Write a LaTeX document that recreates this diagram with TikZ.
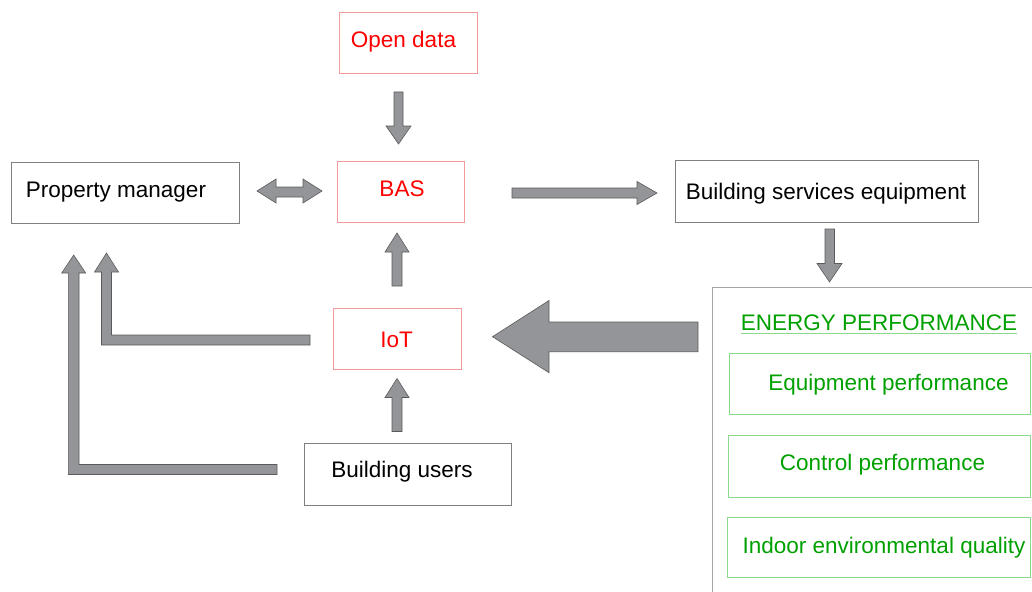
\documentclass[tikz,border=0pt]{standalone}
\usepackage{fontspec}
\setmainfont{Liberation Sans}
\definecolor{arrowfill}{HTML}{939598}
\definecolor{arrowline}{HTML}{5A5A5A}
\definecolor{boxgray}{HTML}{808080}
\definecolor{boxred}{HTML}{F59A9A}
\definecolor{txtred}{HTML}{FF0000}
\definecolor{boxgreen}{HTML}{8CD88C}
\definecolor{txtgreen}{HTML}{00A000}
\definecolor{framegray}{HTML}{A6A6A6}
\tikzset{
  plainbox/.style={draw=boxgray, line width=0.9pt, inner sep=0pt},
  redbox/.style={draw=boxred, line width=0.9pt, inner sep=0pt},
  greenbox/.style={draw=boxgreen, line width=0.9pt, inner sep=0pt},
  label txt/.style={inner sep=0pt, anchor=base, font=\fontsize{22.5}{27}\selectfont},
  blacktxt/.style={label txt, text=black},
  redtxt/.style={label txt, text=txtred},
  greentxt/.style={label txt, text=txtgreen},
  blockarrow/.style={fill=arrowfill, draw=arrowline, line width=0.6pt, line join=miter},
}
\begin{document}
\begin{tikzpicture}[x=1pt, y=-1pt]
\useasboundingbox (0,0) rectangle (1032,591);

% ---- boxes ----
\node[redbox, minimum width=138pt, minimum height=61pt] (open) at (408,42.5) {};
\node[redbox, minimum width=127pt, minimum height=61pt] (bas) at (400.5,191.5) {};
\node[plainbox, minimum width=228pt, minimum height=61pt] (pm) at (125,192.5) {};
\node[plainbox, minimum width=303pt, minimum height=62pt] (bse) at (826.5,191) {};
\node[redbox, minimum width=128pt, minimum height=61pt] (iot) at (397,338.5) {};
\node[plainbox, minimum width=207pt, minimum height=62pt] (users) at (408,474) {};

% energy performance frame (runs past the right and bottom edges)
\node[draw=framegray, line width=0.9pt, minimum width=340pt, minimum height=330pt,
      anchor=north west, inner sep=0pt] (energy) at (711.5,287) {};
\node[greenbox, minimum width=301pt, minimum height=61pt] (eqp) at (879.5,383.5) {};
\node[greenbox, minimum width=302pt, minimum height=62pt] (ctrl) at (879,466) {};
\node[greenbox, minimum width=303pt, minimum height=60pt] (ieq) at (878.5,547) {};

% ---- labels ----
\node[redtxt] (open-t) at ([shift={(-4.5,5.5)}]open.center) {Open data};
\node[redtxt] (bas-t) at ([shift={(1.5,4.5)}]bas.center) {BAS};
\node[blacktxt] (pm-t) at ([shift={(-9,4.5)}]pm.center) {Property manager};
\node[blacktxt] (bse-t) at ([shift={(-0.5,8)}]bse.center) {Building services equipment};
\node[redtxt] (iot-t) at ([shift={(-0.5,8.5)}]iot.center) {IoT};
\node[blacktxt] (users-t) at ([shift={(-6,3.3)}]users.center) {Building users};
\node[greentxt] (ep-t) at (879,330) {ENERGY PERFORMANCE};
\draw[boxgreen, line width=0.9pt] ([yshift=-3.5pt]ep-t.base west) -- ([yshift=-3.5pt]ep-t.base east);
\node[greentxt] (eqp-t) at ([shift={(9,6.5)}]eqp.center) {Equipment performance};
\node[greentxt] (ctrl-t) at ([shift={(3.5,4.7)}]ctrl.center) {Control performance};
\node[greentxt] (ieq-t) at ([shift={(5.5,6.3)}]ieq.center) {Indoor environmental quality};

% ---- block arrows ----
% Open data -> BAS
\draw[blockarrow] (394,92) -- (403,92) -- (403,126) -- (411,126) -- (398.5,144)
  -- (386,126) -- (394,126) -- cycle;
% Property manager <-> BAS
\draw[blockarrow] (257,191) -- (276,179) -- (276,187) -- (303,187) -- (303,179)
  -- (322,191) -- (303,203) -- (303,197) -- (276,197) -- (276,203) -- cycle;
% BAS -> Building services equipment
\draw[blockarrow] (512,188) -- (637,188) -- (637,181.5) -- (657,193) -- (637,204.5)
  -- (637,198) -- (512,198) -- cycle;
% IoT -> BAS
\draw[blockarrow] (392,286) -- (392,252) -- (385,252) -- (397,233) -- (409,252)
  -- (402,252) -- (402,286) -- cycle;
% Building users -> IoT
\draw[blockarrow] (392,431.5) -- (392,397.5) -- (385,397.5) -- (397,378.5) -- (409,397.5)
  -- (402,397.5) -- (402,431.5) -- cycle;
% IoT -> Property manager
\draw[blockarrow] (310,335) -- (111.5,335) -- (111.5,272) -- (118.5,272) -- (106.5,253)
  -- (94.5,272) -- (101.5,272) -- (101.5,345) -- (310,345) -- cycle;
% Building users -> Property manager
\draw[blockarrow] (277,464.5) -- (79,464.5) -- (79,273) -- (85.7,273) -- (73.7,255)
  -- (61.7,273) -- (68.3,273) -- (68.3,474.5) -- (277,474.5) -- cycle;
% Building services equipment -> energy performance
\draw[blockarrow] (825,229) -- (834.5,229) -- (834.5,263.5) -- (842,263.5) -- (829.5,282)
  -- (817,263.5) -- (825,263.5) -- cycle;
% energy performance -> IoT
\draw[blockarrow] (698,322) -- (549,322) -- (549,300.5) -- (492.5,336.7) -- (549,372.7)
  -- (549,351.7) -- (698,351.7) -- cycle;
\end{tikzpicture}
\end{document}
